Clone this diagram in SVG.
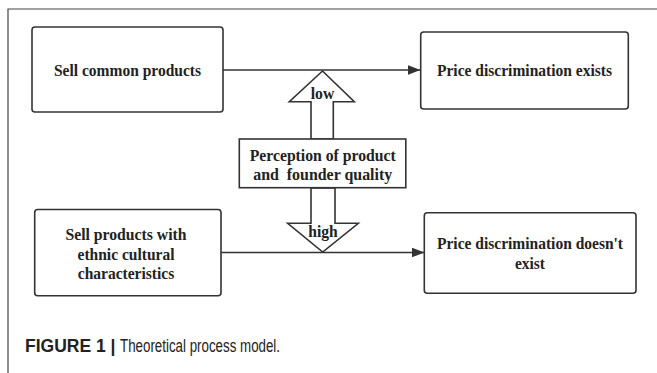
<svg xmlns="http://www.w3.org/2000/svg" width="657" height="373" viewBox="0 0 657 373">
<style>
.box{fill:#fff;stroke:#333;stroke-width:1.6}
.ln{fill:none;stroke:#333;stroke-width:1.6}
.blk{fill:#fff;stroke:#333;stroke-width:1.6;stroke-linejoin:miter}
.t{font-family:"Liberation Serif","Times New Roman",serif;font-weight:bold;font-size:17px;fill:#222;text-anchor:middle}
.cap{font-family:"Liberation Sans",Arial,sans-serif;font-size:17.5px;fill:#222}
</style>
<defs>
<marker id="ah" markerWidth="14" markerHeight="10" refX="13" refY="5" orient="auto" markerUnits="userSpaceOnUse">
<path d="M0,0 L13,5 L0,10 z" fill="#333"/>
</marker>
</defs>
<rect width="657" height="373" fill="#fff"/>
<path d="M8,373 V9 H657" fill="none" stroke="#444" stroke-width="1.2"/>
<g id="connectors">
<line class="ln" x1="223" y1="70" x2="420.5" y2="70" marker-end="url(#ah)"/>
<line class="ln" x1="221" y1="252.5" x2="424.5" y2="252.5" marker-end="url(#ah)"/>
<polygon id="arrow-low" class="blk" points="322.5,71 354.3,101.7 333.3,101.7 333.3,139 311,139 311,101.7 289.3,101.7"/>
<polygon id="arrow-high" class="blk" points="311,188 335,188 335,223.3 358.3,223.3 322.7,252 287.7,223.3 311,223.3"/>
<text class="t" x="322.5" y="98.5" textLength="23.5" lengthAdjust="spacingAndGlyphs">low</text>
<text class="t" x="323" y="237" textLength="29.5" lengthAdjust="spacingAndGlyphs">high</text>
</g>
<g id="n1">
<rect class="box" x="32" y="27" width="191" height="85" rx="3"/>
<text class="t" x="127.5" y="75.5" textLength="147" lengthAdjust="spacingAndGlyphs">Sell common products</text>
</g>
<g id="n2">
<rect class="box" x="420.7" y="32" width="207.6" height="77" rx="3"/>
<text class="t" x="524.5" y="75.5" textLength="175" lengthAdjust="spacingAndGlyphs">Price discrimination exists</text>
</g>
<g id="n3">
<rect class="box" x="239.3" y="139" width="166.5" height="48.7"/>
<text class="t" x="322.7" y="160.5" textLength="146" lengthAdjust="spacingAndGlyphs">Perception of product</text>
<text class="t" x="322.7" y="180" xml:space="preserve" textLength="139" lengthAdjust="spacingAndGlyphs">and  founder quality</text>
</g>
<g id="n4">
<rect class="box" x="34.7" y="209.5" width="186.3" height="86.2" rx="3"/>
<text class="t" x="126" y="240" textLength="121" lengthAdjust="spacingAndGlyphs">Sell products with</text>
<text class="t" x="126" y="259.5" textLength="97" lengthAdjust="spacingAndGlyphs">ethnic cultural</text>
<text class="t" x="126" y="279" textLength="96.5" lengthAdjust="spacingAndGlyphs">characteristics</text>
</g>
<g id="n5">
<rect class="box" x="424.3" y="212.7" width="211.7" height="80.5" rx="3"/>
<text class="t" x="530" y="249" textLength="186" lengthAdjust="spacingAndGlyphs">Price discrimination doesn't</text>
<text class="t" x="530" y="268.5" textLength="30" lengthAdjust="spacingAndGlyphs">exist</text>
</g>
<text class="cap" x="25" y="352"><tspan font-weight="bold">FIGURE 1</tspan> <tspan font-weight="bold">|</tspan> <tspan textLength="160" lengthAdjust="spacingAndGlyphs">Theoretical process model.</tspan></text>
</svg>
